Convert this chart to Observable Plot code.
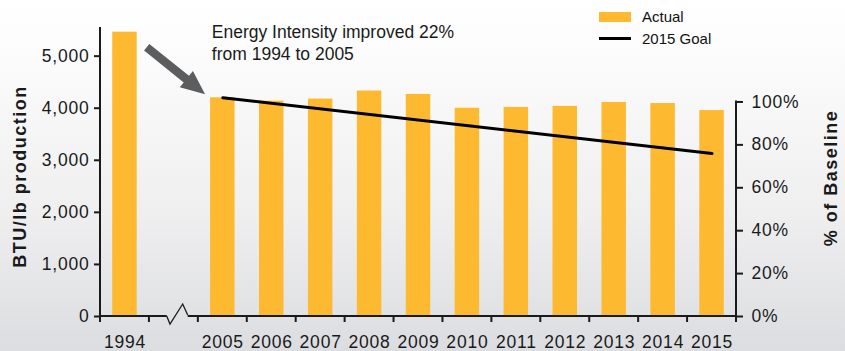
<!DOCTYPE html>
<html>
<head>
<meta charset="utf-8">
<script src="https://cdn.jsdelivr.net/npm/d3@7"></script>
<script src="https://cdn.jsdelivr.net/npm/@observablehq/plot@0.6"></script>
<style>
  html, body { margin: 0; padding: 0; }
  body {
    width: 845px; height: 351px; overflow: hidden;
    background: linear-gradient(to bottom, #ffffff 0%, #fbfbfb 18%, #efeff0 60%, #dcdde0 100%);
    font-family: "Liberation Sans", Arial, Helvetica, sans-serif;
  }
  #chart { position: relative; width: 845px; height: 351px; }
  #chart svg { position: absolute; left: 0; top: 0; }
  g[aria-label="y-axis tick label"] text,
  g[aria-label="x-axis tick label"] text { letter-spacing: 0.8px; }
  .legend { position: absolute; left: 599px; top: 7px; font-size: 15px; color: #111; }
  .legend .sw { position: absolute; left: 0; top: 5px; width: 32px; height: 10px; background: #fdb930; }
  .legend .ln { position: absolute; left: 0; top: 30px; width: 32px; height: 2.5px; background: #000; }
  .legend .lab { position: absolute; left: 43px; white-space: nowrap; }
</style>
</head>
<body>
<div id="chart">
  <div class="legend">
    <div class="sw"></div><div class="lab" style="top:1px">Actual</div>
    <div class="ln"></div><div class="lab" style="top:23px">2015 Goal</div>
  </div>
</div>
<script>
// ---- data ----
const categories = ["1994", "", "2005", "2006", "2007", "2008", "2009", "2010", "2011", "2012", "2013", "2014", "2015"];
const actual     = [5460, null, 4200, 4135, 4175, 4330, 4265, 4000, 4015, 4035, 4110, 4090, 3955];
const goalYears  = ["2005", "2015"];
const goalValues = [4200, 3130];
const leftTicks  = [0, 1000, 2000, 3000, 4000, 5000];
const percentTicks = [0, 20, 40, 60, 80, 100];
const baselineValue = 4120;   // BTU/lb equal to 100% on the right axis
const annotationLines = ["Energy Intensity improved 22%", "from 1994 to 2005"];
const arrowFrom = {cat: "1994", value: 5160};
const arrowTo   = {cat: "2005", value: 4260};

const rows = categories.map((c, i) => ({cat: c, value: actual[i]})).filter(d => d.value != null);
const goal = goalYears.map((c, i) => ({cat: c, value: goalValues[i]}));

const barColor = "#fdb930";
const ink = "#1a1a1a";

function decorations(index, scales, values, dimensions) {
  const x = scales.x, y = scales.y;
  const {width, marginLeft, marginRight, marginTop} = dimensions;
  const step = x(categories[1]) - x(categories[0]);
  const bw = typeof x.bandwidth === "function" ? x.bandwidth() : step * 0.5;
  const pad = (step - bw) / 2;
  const left = marginLeft, right = width - marginRight, y0 = y(0);
  const g = d3.create("svg:g");
  // break symbol position
  const bx = x("") + bw / 2;
  const z0 = bx - 6.7, z1 = bx + 14.3;
  // bottom axis line (broken)
  g.append("path").attr("d", `M${left},${y0}H${z0}M${z1},${y0}H${right}`)
    .attr("stroke", ink).attr("stroke-width", 2).attr("fill", "none");
  g.append("path").attr("d", `M${z0},${y0}L${bx - 3.4},${y0 + 8}L${bx + 9.3},${y0 - 12}L${z1},${y0 - 1}`)
    .attr("stroke", ink).attr("stroke-width", 1.3).attr("fill", "none").attr("stroke-linejoin", "miter");
  // band-boundary ticks
  const edges = categories.map(c => x(c) - pad).concat([x(categories[categories.length - 1]) + bw + pad]);
  for (const e of edges) {
    g.append("line").attr("x1", e).attr("x2", e).attr("y1", y0).attr("y2", y0 + 6)
      .attr("stroke", ink).attr("stroke-width", 2);
  }
  // left & right axis lines
  g.append("line").attr("x1", left).attr("x2", left).attr("y1", y0).attr("y2", marginTop)
    .attr("stroke", ink).attr("stroke-width", 2);
  g.append("line").attr("x1", right).attr("x2", right).attr("y1", y0).attr("y2", y(baselineValue) - 1)
    .attr("stroke", ink).attr("stroke-width", 2);
  // arrow
  const T = [x(arrowFrom.cat) + bw + 10, y(arrowFrom.value)];
  const P = [x(arrowTo.cat) - 5, y(arrowTo.value)];
  const dx = P[0] - T[0], dy = P[1] - T[1], L = Math.hypot(dx, dy);
  const u = [dx / L, dy / L], n = [-u[1], u[0]];
  const w = 4.2, hw = 10.5, hl = 24;
  const B = [P[0] - u[0] * hl, P[1] - u[1] * hl];
  const pts = [
    [T[0] + n[0] * w, T[1] + n[1] * w],
    [B[0] + n[0] * w, B[1] + n[1] * w],
    [B[0] + n[0] * hw, B[1] + n[1] * hw],
    P,
    [B[0] - n[0] * hw, B[1] - n[1] * hw],
    [B[0] - n[0] * w, B[1] - n[1] * w],
    [T[0] - n[0] * w, T[1] - n[1] * w]
  ];
  g.append("polygon").attr("points", pts.map(p => p.join(",")).join(" ")).attr("fill", "#5c5d5f");
  // axis titles
  const midY = 176.5;
  g.append("text").attr("transform", `translate(20,${midY}) rotate(-90)`)
    .attr("text-anchor", "middle").attr("dominant-baseline", "central")
    .attr("font-weight", "bold").attr("font-size", 18).attr("letter-spacing", "1.5px")
    .attr("fill", ink).text("BTU/lb production");
  g.append("text").attr("transform", `translate(${width - 14.5},${midY + 1.5}) rotate(-90)`)
    .attr("text-anchor", "middle").attr("dominant-baseline", "central")
    .attr("font-weight", "bold").attr("font-size", 18).attr("letter-spacing", "1.5px")
    .attr("fill", ink).text("% of Baseline");
  return g.node();
}

const plot = Plot.plot({
  width: 845,
  height: 351,
  marginLeft: 100,
  marginRight: 109,
  marginTop: 27,
  marginBottom: 35,
  style: {background: "transparent", fontFamily: '"Liberation Sans", Arial, sans-serif', overflow: "visible", color: ink},
  x: {domain: categories, paddingInner: 0.5, paddingOuter: 0.25, align: 0.5, round: false},
  y: {domain: [0, 5550]},
  marks: [
    Plot.barY(rows, {x: "cat", y: "value", fill: barColor}),
    Plot.line(goal, {x: "cat", y: "value", stroke: "#000", strokeWidth: 3}),
    Plot.axisY(leftTicks, {anchor: "left", tickSize: 6, tickPadding: 5, fontSize: 17.5, strokeWidth: 2, label: null,
      tickFormat: d3.format(",")}),
    Plot.axisY(percentTicks.map(p => p / 100 * baselineValue), {anchor: "right", tickSize: 6, tickPadding: 9, fontSize: 17.5,
      strokeWidth: 2, label: null, tickFormat: v => Math.round(v / baselineValue * 100) + "%"}),
    Plot.axisX({tickSize: 0, tickPadding: 19.5, fontSize: 17.5, label: null, tickFormat: d => d}),
    Plot.text([annotationLines.join("\n")], {x: () => "2005", y: () => 5652, text: d => d,
      textAnchor: "start", lineAnchor: "top", dx: -11, fontSize: 17.5, lineHeight: 1.26, fill: ink}),
    decorations
  ]
});
document.getElementById("chart").appendChild(plot);
</script>
</body>
</html>
